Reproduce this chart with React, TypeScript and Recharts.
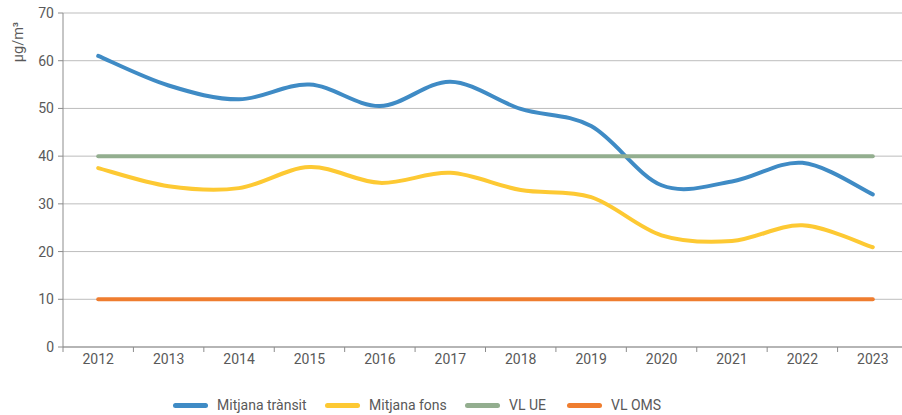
import { CartesianGrid, Legend, Line, LineChart, XAxis, YAxis } from "recharts";

const years = ["2012", "2013", "2014", "2015", "2016", "2017", "2018", "2019", "2020", "2021", "2022", "2023"];
const transit = [61, 54.8, 51.9, 55, 50.5, 55.6, 49.9, 46.3, 33.9, 34.7, 38.6, 32];
const fons = [37.5, 33.7, 33.3, 37.7, 34.4, 36.5, 32.9, 31.4, 23.4, 22.2, 25.5, 20.9];
const vlUe = [40, 40, 40, 40, 40, 40, 40, 40, 40, 40, 40, 40];
const vlOms = [10, 10, 10, 10, 10, 10, 10, 10, 10, 10, 10, 10];
const yTicks = [0, 10, 20, 30, 40, 50, 60, 70];

const BLUE = "#3f8bc5";
const YELLOW = "#fdc933";
const GREEN = "#93ae8f";
const ORANGE = "#ef7d2f";
const TEXT = "#595959";
const FONT = "Roboto, 'Liberation Sans', sans-serif";

const data = years.map((year, i) => ({
  year,
  transit: transit[i],
  fons: fons[i],
  vlUe: vlUe[i],
  vlOms: vlOms[i],
}));

const series = [
  { key: "transit", name: "Mitjana trànsit", color: BLUE, width: 152 },
  { key: "fons", name: "Mitjana fons", color: YELLOW, width: 140 },
  { key: "vlUe", name: "VL UE", color: GREEN, width: 102 },
  { key: "vlOms", name: "VL OMS", color: ORANGE, width: 100 },
];

const CHART_W = 910;
const PLOT_LEFT = 63;
const PLOT_RIGHT = 908;
const STEP = (PLOT_RIGHT - PLOT_LEFT) / years.length;

// excel-ish smoothed line (catmull-rom through every point)
const smooth = (context: any) => {
  let xs: number[] = [];
  let ys: number[] = [];
  return {
    areaStart() {},
    areaEnd() {},
    lineStart() {
      xs = [];
      ys = [];
    },
    point(x: number, y: number) {
      xs.push(+x);
      ys.push(+y);
    },
    lineEnd() {
      const n = xs.length;
      if (!n) return;
      context.moveTo(xs[0], ys[0]);
      for (let i = 0; i < n - 1; i++) {
        const a = Math.max(i - 1, 0);
        const d = Math.min(i + 2, n - 1);
        context.bezierCurveTo(
          xs[i] + (xs[i + 1] - xs[a]) / 6,
          ys[i] + (ys[i + 1] - ys[a]) / 6,
          xs[i + 1] - (xs[d] - xs[i]) / 6,
          ys[i + 1] - (ys[d] - ys[i]) / 6,
          xs[i + 1],
          ys[i + 1]
        );
      }
    },
  };
};

function YearTick(props: any) {
  const { x, y, payload, index } = props;
  const axisY = y - 7;
  const half = STEP / 2;
  return (
    <g>
      <line x1={x - half} y1={axisY} x2={x - half} y2={axisY + 5} stroke="#8c8c8c" />
      {index === years.length - 1 && (
        <line x1={x + half} y1={axisY} x2={x + half} y2={axisY + 5} stroke="#8c8c8c" />
      )}
      <text x={x} y={y} dy="0.71em" textAnchor="middle" fill={TEXT} fontSize={14} fontFamily={FONT}>
        {payload.value}
      </text>
    </g>
  );
}

function ChartLegend() {
  return (
    <div style={{ display: "flex", height: 20, alignItems: "center", paddingLeft: 173, fontFamily: FONT, fontSize: 14, color: TEXT }}>
      {series.map((s) => (
        <div key={s.key} style={{ display: "flex", alignItems: "center", width: s.width }}>
          <span style={{ width: 35, height: 5, borderRadius: 3, background: s.color, marginRight: 9 }} />
          <span>{s.name}</span>
        </div>
      ))}
    </div>
  );
}

export default function App() {
  return (
    <div style={{ position: "absolute", left: 0, top: 0, width: 902, height: 415, overflow: "hidden", background: "#fff" }}>
      <LineChart width={CHART_W} height={415} data={data} margin={{ top: 13, right: CHART_W - PLOT_RIGHT, bottom: 18, left: 0 }}>
        <CartesianGrid vertical={false} stroke="#bdbdbd" />
        <XAxis
          dataKey="year"
          padding={{ left: STEP / 2, right: STEP / 2 }}
          height={30}
          stroke="#8c8c8c"
          tickLine={false}
          tickSize={5}
          tickMargin={2}
          interval={0}
          tick={<YearTick />}
        />
        <YAxis
          domain={[0, 70]}
          ticks={yTicks}
          width={PLOT_LEFT}
          stroke="#8c8c8c"
          tickSize={5}
          tickMargin={4}
          tick={{ fill: TEXT, fontSize: 14, fontFamily: FONT }}
          label={() => (
            <text x={18} y={42} transform="rotate(-90 18 42)" textAnchor="middle" dominantBaseline="central" fill={TEXT} fontSize={14.5} fontFamily={FONT}>
              µg/m³
            </text>
          )}
        />
        <Legend content={<ChartLegend />} wrapperStyle={{ left: 0, top: 395, width: 902, height: 20 }} />
        {series.map((s) => (
          <Line
            key={s.key}
            dataKey={s.key}
            name={s.name}
            type={smooth as any}
            stroke={s.color}
            strokeWidth={4}
            strokeLinecap="round"
            dot={false}
            activeDot={false}
            isAnimationActive={false}
          />
        ))}
      </LineChart>
    </div>
  );
}
